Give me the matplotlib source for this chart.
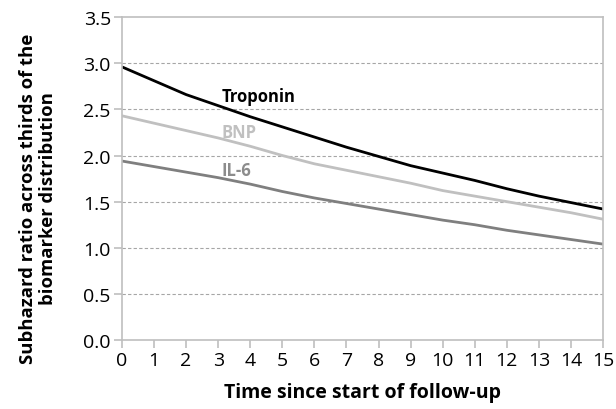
import numpy as np
import matplotlib.pyplot as plt

# Subhazard ratio over follow-up time
years = list(range(16))
troponin = [2.96, 2.81, 2.66, 2.54, 2.42, 2.31, 2.20, 2.09, 1.99, 1.89, 1.81, 1.73, 1.64, 1.56, 1.49, 1.42]
bnp = [2.43, 2.35, 2.27, 2.19, 2.10, 2.00, 1.91, 1.84, 1.77, 1.70, 1.62, 1.56, 1.50, 1.44, 1.38, 1.31]
il6 = [1.94, 1.88, 1.82, 1.76, 1.69, 1.61, 1.54, 1.48, 1.42, 1.36, 1.30, 1.25, 1.19, 1.14, 1.09, 1.04]
y_ticks = [0.0, 0.5, 1.0, 1.5, 2.0, 2.5, 3.0, 3.5]

plt.rcParams['font.family'] = ['Open Sans', 'DejaVu Sans']

fig = plt.figure(figsize=(6.16, 4.10), dpi=100)
ax = fig.add_axes([0.198, 0.168, 0.781, 0.788])

ax.plot(years, troponin, color='black', lw=2.0, solid_capstyle='butt')
ax.plot(years, bnp, color='#c0c0c0', lw=2.0, solid_capstyle='butt')
ax.plot(years, il6, color='#7f7f7f', lw=2.0, solid_capstyle='butt')

# Series labels placed on the curves like the original
ax.text(3.1, 2.64, 'Troponin', color='black', fontsize=12, fontweight='bold', va='center')
ax.text(3.1, 2.26, 'BNP', color='#c0c0c0', fontsize=12, fontweight='bold', va='center')
ax.text(3.1, 1.84, 'IL-6', color='#8c8c8c', fontsize=12, fontweight='bold', va='center')

ax.set_xlim(0, 15)
ax.set_ylim(0, 3.5)
ax.set_xticks(years)
ax.set_yticks(y_ticks)
ax.set_yticklabels([f'{v:.1f}' for v in y_ticks])

for y in y_ticks[1:-1]:
    ax.axhline(y, color='#a6a6a6', lw=0.8, ls=(0, (3, 2)), zorder=0)

for side in ['left', 'right', 'top', 'bottom']:
    ax.spines[side].set_color('#bfbfbf')
    ax.spines[side].set_linewidth(1.2)

ax.tick_params(axis='both', colors='#bfbfbf', labelcolor='black', labelsize=14, length=6, width=1.2)
ax.tick_params(axis='x', pad=2)
ax.tick_params(axis='y', pad=2)

ax.set_xlabel('Time since start of follow-up', fontsize=14, fontweight='bold', labelpad=9)
ax.set_ylabel('Subhazard ratio across thirds of the\nbiomarker distribution', fontsize=13.3,
              fontweight='bold', linespacing=1.15)
ax.yaxis.set_label_coords(-0.135, 0.44)

plt.savefig('out.png', dpi=100)
